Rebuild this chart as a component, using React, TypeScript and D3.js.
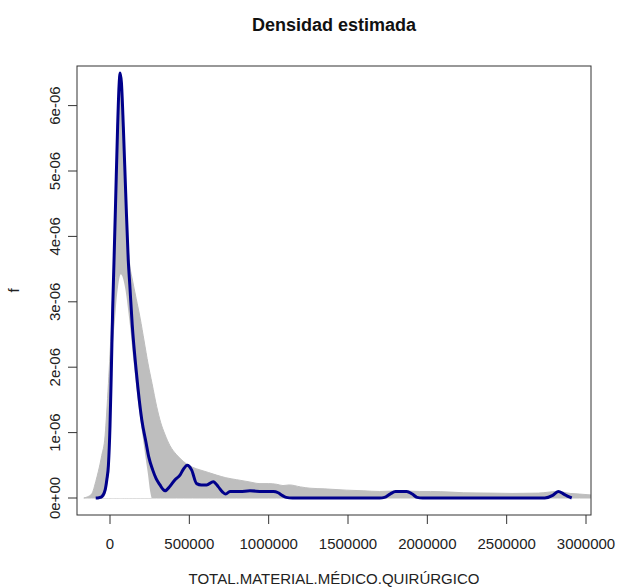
import React from "react";
import * as d3 from "d3";

// ---- data (x in units, y density) ----
const xTicks = [0, 500000, 1000000, 1500000, 2000000, 2500000, 3000000];
const xTickLabels = ["0", "500000", "1000000", "1500000", "2000000", "2500000", "3000000"];
const yTicks = [0, 1e-6, 2e-6, 3e-6, 4e-6, 5e-6, 6e-6];
const yTickLabels = ["0e+00", "1e-06", "2e-06", "3e-06", "4e-06", "5e-06", "6e-06"];

// estimated density (blue), x in thousands, y in 1e-6
const blueX = [-90, -70, -52, -31, -20, -10, 0, 8, 17, 25, 35, 48, 57, 64, 72, 84, 99, 115, 125, 140, 165, 200, 227, 245, 269, 290, 315, 335, 347, 378, 410, 441, 465, 487, 514, 546, 575, 609, 651, 683, 710, 729, 756, 820, 882, 960, 1030, 1060, 1085, 1110, 1150, 1700, 1730, 1765, 1800, 1870, 1905, 1935, 1970, 2740, 2790, 2825, 2860, 2890, 2910];
const blueY = [0, 0.005, 0.02, 0.12, 0.28, 0.5, 1.1, 1.9, 2.9, 3.6, 4.5, 5.68, 6.3, 6.5, 6.35, 5.68, 4.66, 3.64, 3.25, 2.65, 1.95, 1.2, 0.85, 0.62, 0.43, 0.3, 0.2, 0.13, 0.11, 0.18, 0.28, 0.35, 0.45, 0.5, 0.43, 0.22, 0.2, 0.2, 0.25, 0.17, 0.09, 0.06, 0.1, 0.1, 0.11, 0.1, 0.1, 0.08, 0.04, 0.01, 0, 0, 0.01, 0.06, 0.1, 0.1, 0.06, 0.01, 0, 0, 0.04, 0.1, 0.06, 0.02, 0];

// upper envelope of the simulated (grey) densities
const greyX = [-165, -140, -116, -105, -90, -74, -52, -31, -21, -10, 0, 8, 15, 22, 30, 40, 52, 60, 66, 72, 80, 92, 105, 115, 125, 140, 165, 190, 215, 240, 265, 294, 320, 345, 378, 420, 462, 520, 567, 620, 672, 730, 798, 870, 945, 1000, 1050, 1090, 1130, 1200, 1260, 1350, 1490, 1600, 1700, 1830, 1950, 2020, 2150, 2230, 2400, 2540, 2700, 2820, 2900, 2960, 3040, 3100];
const greyY = [0, 0.02, 0.06, 0.12, 0.25, 0.4, 0.65, 0.95, 1.3, 1.75, 2.2, 2.6, 3.0, 3.3, 3.9, 4.9, 5.8, 6.15, 6.22, 6.1, 5.5, 4.75, 4.15, 3.8, 3.55, 3.35, 3.05, 2.75, 2.4, 2.05, 1.75, 1.4, 1.15, 0.98, 0.8, 0.66, 0.56, 0.47, 0.43, 0.39, 0.35, 0.31, 0.28, 0.25, 0.22, 0.22, 0.21, 0.19, 0.2, 0.17, 0.15, 0.14, 0.12, 0.11, 0.1, 0.11, 0.1, 0.1, 0.09, 0.08, 0.075, 0.07, 0.075, 0.1, 0.07, 0.06, 0.045, 0.03];

// the empty interior below the grey peaks
const holeX = [-60, -40, -25, -12, -4, 6, 15, 25, 31, 40, 50, 68, 94, 122, 150, 180, 205, 225, 240, 250, 262];
const holeY = [0, 0.01, 0.1, 0.3, 0.43, 1.5, 2.2, 2.55, 2.72, 3.0, 3.22, 3.42, 3.23, 2.72, 2.05, 1.4, 0.95, 0.6, 0.35, 0.15, 0];

const W = 617, H = 587;
const box = { l: 77, r: 591, t: 66, b: 515 };
const font = "'Liberation Sans', Arial, Helvetica, sans-serif";

export default function App() {
  const x = d3.scaleLinear().domain([0, 3000000]).range([110, 586]);
  const y = d3.scaleLinear().domain([0, 6e-6]).range([498, 105.6]);

  const pts = (xs: number[], ys: number[]) => xs.map((v, i) => [v * 1000, ys[i] * 1e-6] as [number, number]);

  const area = d3.area<[number, number]>()
    .x(d => x(d[0])).y0(y(0)).y1(d => y(d[1])).curve(d3.curveMonotoneX);
  const line = d3.line<[number, number]>()
    .x(d => x(d[0])).y(d => y(d[1])).curve(d3.curveMonotoneX);

  return (
    <svg width={W} height={H} style={{ position: "absolute", left: 0, top: 0, background: "#fff" }}
      fontFamily={font}>
      <defs>
        <clipPath id="plotclip">
          <rect x={box.l} y={box.t} width={box.r - box.l} height={box.b - box.t} />
        </clipPath>
      </defs>
      <rect x={0} y={0} width={W} height={H} fill="#fff" />
      <g clipPath="url(#plotclip)">
        <path d={area(pts(greyX, greyY)) || ""} fill="#bebebe" stroke="#bebebe" strokeWidth={1} />
        <path d={area(pts(holeX, holeY)) || ""} fill="#fff" />
        <path d={line(pts(blueX, blueY)) || ""} fill="none" stroke="#00008b" strokeWidth={3} strokeLinejoin="round" />
      </g>
      <rect x={box.l} y={box.t} width={box.r - box.l} height={box.b - box.t} fill="none" stroke="#333" strokeWidth={1} />
      {/* x axis */}
      {xTicks.map((t, i) => (
        <g key={"xt" + i}>
          <line x1={x(t)} x2={x(t)} y1={box.b} y2={box.b + 9} stroke="#333" />
          <text x={x(t)} y={549} textAnchor="middle" fontSize={15} fill="#222">{xTickLabels[i]}</text>
        </g>
      ))}
      {/* y axis */}
      {yTicks.map((t, i) => (
        <g key={"yt" + i}>
          <line x1={box.l - 9} x2={box.l} y1={y(t)} y2={y(t)} stroke="#333" />
          <text transform={`translate(59.5,${y(t)}) rotate(-90)`} textAnchor="middle" fontSize={15} fill="#222">{yTickLabels[i]}</text>
        </g>
      ))}
      <text x={(box.l + box.r) / 2} y={31} textAnchor="middle" fontSize={18} fontWeight="bold" fill="#111">Densidad estimada</text>
      <text x={(box.l + box.r) / 2} y={584} textAnchor="middle" fontSize={15} fill="#222">TOTAL.MATERIAL.MÉDICO.QUIRÚRGICO</text>
      <text transform={`translate(19,${(box.t + box.b) / 2}) rotate(-90)`} textAnchor="middle" fontSize={15} fill="#222">f</text>
    </svg>
  );
}
